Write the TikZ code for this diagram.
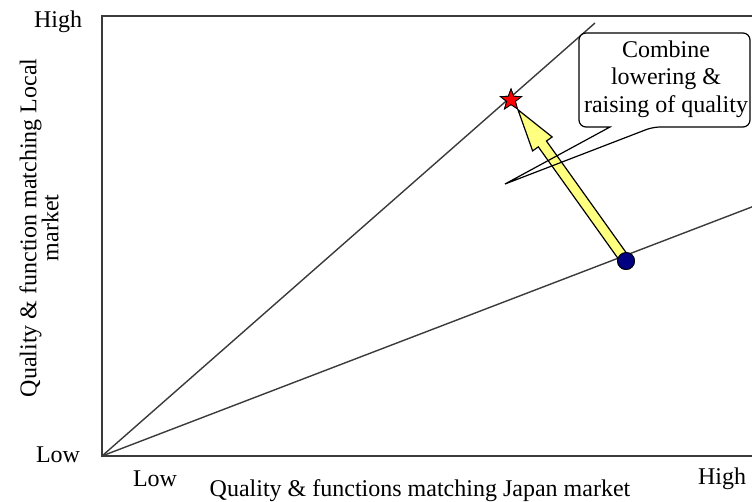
\documentclass[tikz,border=0pt]{standalone}
\usepackage{fontspec}
\setmainfont{Liberation Serif}
\usepackage{xcolor}
\usepackage{tikz}
\usetikzlibrary{shapes.geometric, arrows.meta, positioning, calc}
\definecolor{framegray}{HTML}{3A3A3A}
\definecolor{arrowyellow}{HTML}{FFFF80}
\definecolor{dotnavy}{HTML}{000080}
\newcommand{\notepath}{(579,80) [rounded corners=7pt] -- (579,33) -- (750,33) -- (750,127) -- (653,127) [sharp corners] -- (ptr) -- (610,127) [rounded corners=7pt] -- (579,127) -- cycle}

\begin{document}
\begin{tikzpicture}[x=1pt, y=-1pt,
  lbl/.style={font=\fontsize{24}{27.6}\selectfont, inner sep=0pt},
  axis/.style={draw=framegray, line width=2pt},
  ray/.style={draw=framegray, line width=1.4pt}
]
  \useasboundingbox (0,0) rectangle (752,502);
  \clip (0,0) rectangle (752,502);

  \coordinate (origin) at (102,456);
  \coordinate (topleft) at (102,16);
  \coordinate (topright) at (770,16);
  \coordinate (botright) at (770,456);
  \coordinate (steepend) at (595,23);
  \coordinate (flatend) at (770,200);
  \coordinate (ptr) at (505,184);

  \draw[axis] (topright) -- (topleft) -- (origin) -- (botright);
  \draw[ray] (origin) -- (steepend);
  \draw[ray] (origin) -- (flatend);

  \node[circle, fill=dotnavy, draw=black, line width=0.8pt, minimum size=17pt, inner sep=0pt] (now) at (626,261) {};
  \node[star, star points=5, star point ratio=2.4, fill=red, draw=black, line width=0.8pt, minimum size=22pt, inner sep=0pt] (goal) at (511,100) {};

  \fill[white] \notepath;

  \coordinate (tail) at ($(now)!7pt!(goal)$);
  \coordinate (tip) at ($(goal)!12pt!(now)$);
  \coordinate (head) at ($(tip)!42pt!(now)$);
  \draw[fill=arrowyellow, line width=1.2pt, line join=miter]
    ($(tail)!5pt!90:(goal)$) -- ($(head)!5pt!90:(goal)$) -- ($(head)!12pt!90:(goal)$)
    -- (tip) -- ($(head)!12pt!-90:(goal)$) -- ($(head)!5pt!-90:(goal)$)
    -- ($(tail)!5pt!-90:(goal)$) -- cycle;

  \draw[line width=1.2pt] \notepath;
  \node[lbl, align=center] (note) at (666,79) {Combine\\lowering \&\\raising of quality};

  \node[star, star points=5, star point ratio=2.4, fill=red, draw=black, line width=0.8pt, minimum size=22pt, inner sep=0pt] at (goal) {};
  \node[circle, fill=dotnavy, draw=black, line width=0.8pt, minimum size=17pt, inner sep=0pt] at (now) {};

  \node[lbl] (yhigh) at (58,22) {High};
  \node[lbl] (ylow) at (58,455) {Low};
  \node[lbl] (xlow) at (155,479) {Low};
  \node[lbl] (xhigh) at (722,479) {High};
  \node[lbl] (xtitle) at (420,491) {Quality \& functions matching Japan market};
  \node[lbl, font=\fontsize{24}{22}\selectfont, rotate=90, align=center] (ytitle) at (39,228) {Quality \& function matching Local\\market};
\end{tikzpicture}
\end{document}
